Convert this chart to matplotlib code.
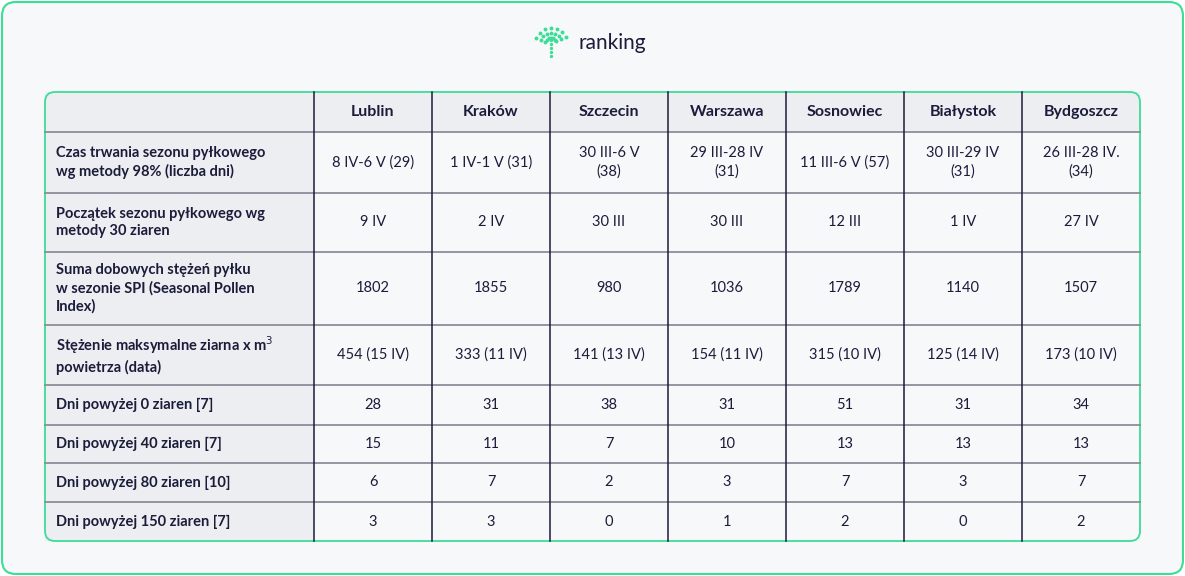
import math
import matplotlib
matplotlib.use("Agg")
import matplotlib.pyplot as plt
from matplotlib.patches import FancyBboxPatch, Rectangle

cities = ["Lublin", "Kraków", "Szczecin", "Warszawa", "Sosnowiec", "Białystok", "Bydgoszcz"]
row_labels = [
    "Czas trwania sezonu pyłkowego\nwg metody 98% (liczba dni)",
    "Początek sezonu pyłkowego wg\nmetody 30 ziaren",
    "Suma dobowych stężeń pyłku\nw sezonie SPI (Seasonal Pollen\nIndex)",
    "Stężenie maksymalne ziarna x m$^3$\npowietrza (data)",
    "Dni powyżej 0 ziaren [7]",
    "Dni powyżej 40 ziaren [7]",
    "Dni powyżej 80 ziaren [10]",
    "Dni powyżej 150 ziaren [7]",
]
season = ["8 IV-6 V (29)", "1 IV-1 V (31)", "30 III-6 V\n(38)", "29 III-28 IV\n(31)",
          "11 III-6 V (57)", "30 III-29 IV\n(31)", "26 III-28 IV.\n(34)"]
start = ["9 IV", "2 IV", "30 III", "30 III", "12 III", "1 IV", "27 IV"]
spi = ["1802", "1855", "980", "1036", "1789", "1140", "1507"]
peak = ["454 (15 IV)", "333 (11 IV)", "141 (13 IV)", "154 (11 IV)", "315 (10 IV)", "125 (14 IV)", "173 (10 IV)"]
days0 = [28, 31, 38, 31, 51, 31, 34]
days40 = [15, 11, 7, 10, 13, 13, 13]
days80 = [6, 7, 2, 3, 7, 3, 7]
days150 = [3, 3, 0, 1, 2, 0, 2]
table = [season, start, spi, peak, days0, days40, days80, days150]

col_edges = [45, 314, 432, 550, 668, 786, 904, 1022, 1140]
row_edges = [92, 132, 193, 252, 325, 385, 425, 463, 502, 541]

navy = "#1b1c3a"
hdr_bg = "#eceef2"
cell_bg = "#f7f8fa"
green = "#3ddc97"
font = ["Lato", "DejaVu Sans"]

fig = plt.figure(figsize=(11.85, 5.76), dpi=100)
ax = fig.add_axes([0, 0, 1, 1])
ax.set_xlim(0, 1185)
ax.set_ylim(576, 0)
ax.axis("off")
fig.patch.set_facecolor("white")

# outer card
ax.add_patch(FancyBboxPatch((2, 2), 1181, 572, boxstyle="round,pad=0,rounding_size=14",
                            fc="#f6f8fa", ec=green, lw=1.5))

# logo: dotted fan
for rr in (6, 11, 16):
    for a in range(25, 160, 22):
        x = 551 + rr * math.cos(math.radians(a))
        y = 44 - rr * math.sin(math.radians(a))
        ax.plot(x, y, "o", ms=1.8, color=green)
for k in range(5):
    ax.plot(551, 40 + k * 4, "o", ms=1.4, color=green)
ax.text(578, 43, "ranking", fontsize=15, color=navy, va="center", ha="left", family=font)

# table background
x0, x1, y0, y1 = col_edges[0], col_edges[-1], row_edges[0], row_edges[-1]
ax.add_patch(Rectangle((x0, y0), x1 - x0, y1 - y0, fc=cell_bg, ec="none"))
ax.add_patch(Rectangle((x0, y0), x1 - x0, row_edges[1] - y0, fc=hdr_bg, ec="none"))
ax.add_patch(Rectangle((x0, y0), col_edges[1] - x0, y1 - y0, fc=hdr_bg, ec="none"))

for y in row_edges[1:-1]:
    ax.plot([x0, x1], [y, y], color="#8a8e99", lw=1.3)
for x in col_edges[1:-1]:
    ax.plot([x, x], [y0, y1], color=navy, lw=1.1)
ax.add_patch(FancyBboxPatch((x0, y0), x1 - x0, y1 - y0, boxstyle="round,pad=0,rounding_size=10",
                            fc="none", ec=green, lw=1.3))

for j, c in enumerate(cities):
    ax.text((col_edges[j + 1] + col_edges[j + 2]) / 2, (row_edges[0] + row_edges[1]) / 2, c,
            ha="center", va="center", fontsize=11.5, fontweight="bold", color=navy, family=font)

for i, lab in enumerate(row_labels):
    yc = (row_edges[i + 1] + row_edges[i + 2]) / 2
    ax.text(56, yc, lab, ha="left", va="center", fontsize=10.5, fontweight="bold", color=navy,
            family=font, linespacing=1.35)
    for j, v in enumerate(table[i]):
        ax.text((col_edges[j + 1] + col_edges[j + 2]) / 2, yc, str(v), ha="center", va="center",
                fontsize=10.5, color=navy, family=font, linespacing=1.35)

fig.savefig("out.png", dpi=100)
